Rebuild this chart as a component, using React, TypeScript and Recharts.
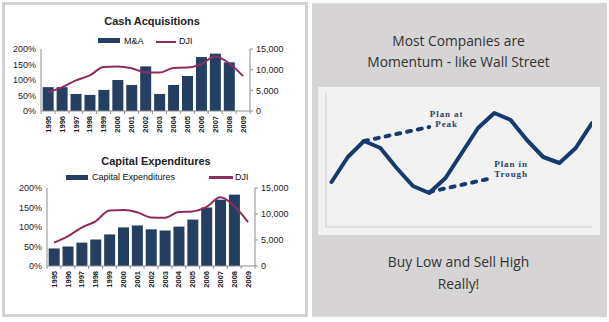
import React from 'react';
import { Bar, ComposedChart, Line, LineChart, ReferenceDot, XAxis, YAxis } from 'recharts';

const YEARS = ['1995', '1996', '1997', '1998', '1999', '2000', '2001', '2002', '2003', '2004', '2005', '2006', '2007', '2008', '2009'];
const MA_PCT = [77, 77, 55, 52, 68, 100, 84, 144, 55, 84, 113, 174, 185, 157, null];
const CAPEX_PCT = [45, 50, 60, 68, 81, 99, 104, 94, 91, 101, 119, 150, 170, 183, null];
const DJI = [4500, 5700, 7400, 8600, 10650, 10750, 10350, 9350, 9300, 10400, 10500, 11350, 13200, 11550, 8450];
const PCT_TICKS = [0, 50, 100, 150, 200];
const DJI_TICKS = [0, 5000, 10000, 15000];

// the momentum sketch on the right
const CYCLE = [45, 70, 86, 79, 59, 41, 34, 49, 74, 99, 114, 107, 87, 70, 64, 79, 104];
const PLAN_PEAK = [{ x: 2, y: 86 }, { x: 6, y: 100 }];
const PLAN_TROUGH = [{ x: 6, y: 35 }, { x: 9.6, y: 48 }];

const BAR = '#243f62';
const DJI_COLOR = '#8e2c60';
const NAVY = '#163a6e';
const AXIS = '#8f8f8f';
const TICK_FONT = '"Liberation Sans", Arial, sans-serif';

const cashData = YEARS.map((year, i) => ({ year, ma: MA_PCT[i], dji: DJI[i] }));
const capexData = YEARS.map((year, i) => ({ year, capex: CAPEX_PCT[i], dji: DJI[i] }));
const cycleData = CYCLE.map((y, i) => ({ x: i, y }));

function YearTick(props: any) {
  const { x, y, payload, index, visibleTicksCount } = props;
  const off = payload?.offset || 7;
  return (
    <g>
      <line x1={x - off} y1={y} x2={x - off} y2={y + 3} stroke={AXIS} />
      {index === visibleTicksCount - 1 && <line x1={x + off} y1={y} x2={x + off} y2={y + 3} stroke={AXIS} />}
      <text
        x={x + 2.7}
        y={y + 5}
        transform={`rotate(-90 ${x + 2.7} ${y + 5})`}
        textAnchor="end"
        fontSize={7.5}
        fontWeight="bold"
        fontFamily={TICK_FONT}
        fill="#222"
      >
        {payload.value}
      </text>
    </g>
  );
}

const tickStyle = { fontSize: 9, fill: '#222', fontFamily: TICK_FONT };

function ComboChart({ data, barKey, width, height, top, leftW, xH }: any) {
  return (
    <ComposedChart
      width={width}
      height={height}
      data={data}
      margin={{ top, right: 10, left: 0, bottom: 0 }}
      barCategoryGap="12%"
    >
      <XAxis
        dataKey="year"
        interval={0}
        height={xH}
        axisLine={{ stroke: AXIS }}
        tickLine={false}
        tickSize={0}
        tickMargin={0}
        tick={<YearTick />}
      />
      <YAxis
        yAxisId="left"
        domain={[0, 200]}
        ticks={PCT_TICKS}
        tickFormatter={(v) => `${v}%`}
        width={leftW}
        axisLine={{ stroke: AXIS }}
        tickLine={false}
        tickSize={3}
        tickMargin={2}
        tick={tickStyle}
      />
      <YAxis
        yAxisId="right"
        orientation="right"
        domain={[0, 15000]}
        ticks={DJI_TICKS}
        tickFormatter={(v) => v.toLocaleString('en-US')}
        width={40}
        axisLine={{ stroke: AXIS }}
        tickLine={{ stroke: AXIS }}
        tickSize={3}
        tickMargin={3}
        tick={{ ...tickStyle, textAnchor: 'start' }}
      />
      <Bar yAxisId="left" dataKey={barKey} fill={BAR} isAnimationActive={false} />
      <Line
        yAxisId="right"
        type="monotone"
        dataKey="dji"
        stroke={DJI_COLOR}
        strokeWidth={2}
        dot={false}
        isAnimationActive={false}
      />
    </ComposedChart>
  );
}

function PlanLabel({ cx, cy, lines, anchor }: any) {
  return (
    <text
      x={cx}
      y={cy}
      textAnchor={anchor}
      fontFamily='"Liberation Serif", serif'
      fontWeight="bold"
      fontSize={9}
      letterSpacing={0.9}
      fill="#27406e"
    >
      {lines.map((l: string, i: number) => (
        <tspan key={i} x={cx} dy={i === 0 ? 0 : 10}>
          {l}
        </tspan>
      ))}
    </text>
  );
}

const abs = (left: number, top: number, extra: any = {}) => ({ position: 'absolute' as const, left, top, ...extra });

export default function App() {
  const legendText = { fontSize: 9, color: '#111', lineHeight: '10px', fontFamily: TICK_FONT, whiteSpace: 'nowrap' as const };
  const heading = { fontSize: 11, fontWeight: 'bold' as const, color: '#222', textAlign: 'center' as const, lineHeight: '14px', fontFamily: TICK_FONT };
  const bigText = { fontSize: 13.8, color: '#333', textAlign: 'center' as const, fontFamily: '"Open Sans", sans-serif', lineHeight: '21px' };
  return (
    <div style={abs(0, 0, { width: 609, height: 322, background: '#fff', overflow: 'hidden' })}>
      <div style={abs(2, 2, { width: 300, height: 309, border: '3px solid #d3d0d1' })} />

      {/* Cash Acquisitions */}
      <div style={abs(2, 14, { width: 300, ...heading })}>Cash Acquisitions</div>
      <div style={abs(98, 38, { width: 22, height: 5, background: BAR })} />
      <div style={abs(124, 35.5, legendText)}>M&amp;A</div>
      <div style={abs(156, 40.5, { width: 20, height: 2.5, background: DJI_COLOR })} />
      <div style={abs(179, 35.5, legendText)}>DJI</div>
      <div style={abs(0, 0)}>
        <ComboChart data={cashData} barKey="ma" width={300} height={140} top={49} leftW={41} xH={29} />
      </div>

      {/* Capital Expenditures */}
      <div style={abs(6, 154, { width: 300, ...heading })}>Capital Expenditures</div>
      <div style={abs(66, 175, { width: 22, height: 4.5, background: BAR })} />
      <div style={abs(92, 172, legendText)}>Capital Expenditures</div>
      <div style={abs(209, 176, { width: 24, height: 2.5, background: DJI_COLOR })} />
      <div style={abs(235, 172, legendText)}>DJI</div>
      <div style={abs(0, 150)}>
        <ComboChart data={capexData} barKey="capex" width={305} height={150} top={38} leftW={47} xH={34} />
      </div>

      {/* right panel */}
      <div style={abs(312, 3, { width: 295, height: 314, background: '#d6d4d5' })} />
      <div style={abs(312, 30, { width: 293, ...bigText })}>
        Most Companies are
        <br />
        Momentum - like Wall Street
      </div>
      <div style={abs(318, 87, { width: 282, height: 148, background: '#f2f2f2' })}>
        <LineChart width={282} height={148} margin={{ top: 6, right: 8, bottom: 7, left: 7 }}>
          <XAxis
            type="number"
            dataKey="x"
            domain={[-0.34, 16]}
            allowDataOverflow
            height={1}
            tick={false}
            tickLine={false}
            axisLine={{ stroke: '#cfcfcf' }}
          />
          <YAxis domain={[0, 134]} width={1} tick={false} tickLine={false} axisLine={{ stroke: '#cfcfcf' }} />
          <Line
            data={cycleData}
            dataKey="y"
            type="linear"
            stroke={NAVY}
            strokeWidth={4}
            strokeLinejoin="round"
            strokeLinecap="round"
            dot={false}
            isAnimationActive={false}
          />
          <Line
            data={PLAN_PEAK}
            dataKey="y"
            stroke={NAVY}
            strokeWidth={4}
            strokeDasharray="4 7"
            strokeLinecap="round"
            dot={false}
            isAnimationActive={false}
          />
          <Line
            data={PLAN_TROUGH}
            dataKey="y"
            stroke={NAVY}
            strokeWidth={4}
            strokeDasharray="4 7"
            strokeLinecap="round"
            dot={false}
            isAnimationActive={false}
          />
          <ReferenceDot x={7.07} y={110} r={0} shape={(p: any) => <PlanLabel {...p} lines={['Plan at', 'Peak']} anchor="middle" />} />
          <ReferenceDot x={10} y={60} r={0} shape={(p: any) => <PlanLabel {...p} lines={['Plan in', 'Trough']} anchor="start" />} />
        </LineChart>
      </div>
      <div style={abs(312, 251, { width: 293, ...bigText, lineHeight: '22px' })}>
        Buy Low and Sell High
        <br />
        Really!
      </div>
    </div>
  );
}
